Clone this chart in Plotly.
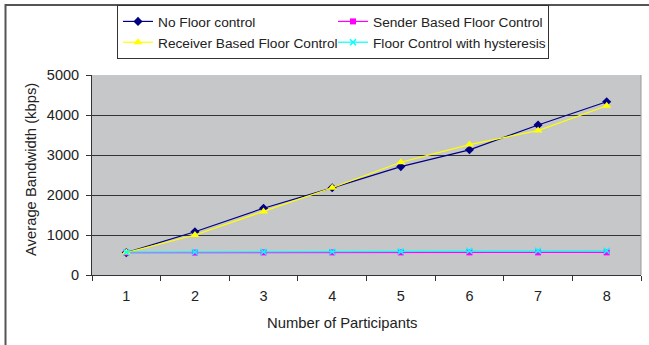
import plotly.graph_objects as go

participants = ["1", "2", "3", "4", "5", "6", "7", "8"]
no_floor = [560, 1080, 1670, 2180, 2710, 3130, 3750, 4330]
sender_based = [560, 560, 565, 565, 565, 565, 565, 565]
receiver_based = [560, 1000, 1590, 2180, 2820, 3260, 3610, 4230]
hysteresis = [570, 575, 580, 580, 590, 605, 605, 605]
x_title = "Number of Participants"
y_title = "Average Bandwidth (kbps)"

fig = go.Figure()
fig.add_trace(go.Scatter(x=participants, y=no_floor, name="No Floor control", mode="lines+markers",
                         line=dict(color="#000080", width=1.2), marker=dict(symbol="diamond", size=7, color="#000080")))
fig.add_trace(go.Scatter(x=participants, y=sender_based, name="Sender Based Floor Control", mode="lines+markers",
                         line=dict(color="#FF00FF", width=1.2), marker=dict(symbol="square", size=6, color="#FF00FF")))
fig.add_trace(go.Scatter(x=participants, y=receiver_based, name="Receiver Based Floor Control", mode="lines+markers",
                         line=dict(color="#FFFF00", width=1.2), marker=dict(symbol="triangle-up", size=8, color="#FFFF00")))
fig.add_trace(go.Scatter(x=participants, y=hysteresis, name="Floor Control with hysteresis", mode="lines+markers",
                         line=dict(color="#00FFFF", width=1.2), marker=dict(symbol="x-thin", size=6, color="#00FFFF",
                                                                             line=dict(color="#00FFFF", width=1.5))))

font = "Liberation Sans, Arial, sans-serif"
fs = 13.7
tfs = 14.8
kfs = 14.5
fig.update_layout(
    width=649, height=345,
    margin=dict(l=92, r=8, t=75, b=70, autoexpand=False),
    paper_bgcolor="white",
    plot_bgcolor="#C6C7C9",
    font=dict(family=font, size=fs, color="#222"),
    showlegend=True,
    legend=dict(orientation="h", xref="container", yref="container",
                x=117 / 649, y=1 - 5 / 345, xanchor="left", yanchor="top",
                entrywidth=170, entrywidthmode="pixels", itemwidth=30,
                bordercolor="#333", borderwidth=1, bgcolor="white",
                font=dict(family=font, size=fs, color="#222"),
                tracegroupgap=0),
    xaxis=dict(type="category", tickson="boundaries", ticks="outside", ticklen=5, tickcolor="#333",
               showline=True, linecolor="#333", linewidth=1, showgrid=False, automargin=False,
               ticklabelstandoff=8,
               tickfont=dict(size=kfs), range=[-0.5, 7.5]),
    yaxis=dict(range=[0, 5000], dtick=1000, ticks="outside", ticklen=5, tickcolor="#333",
               showline=True, linecolor="#333", linewidth=1, automargin=False,
               showgrid=True, gridcolor="#333", gridwidth=1, zeroline=False,
               ticklabelstandoff=4,
               tickfont=dict(size=kfs)),
    annotations=[
        dict(text=x_title, xref="paper", yref="paper", x=(342 - 92) / 549, y=(275 - 323) / 200,
             xanchor="center", yanchor="middle", showarrow=False, font=dict(size=tfs)),
        dict(text=y_title, xref="paper", yref="paper", x=(31 - 92) / 549, y=(275 - 170) / 200,
             xanchor="center", yanchor="middle", showarrow=False, textangle=-90, font=dict(size=tfs)),
    ],
    shapes=[
        dict(type="rect", xref="paper", yref="paper", x0=(5.5 - 92) / 549, x1=(670 - 92) / 549,
             y0=(275 - 5) / 200, y1=(275 - 370) / 200, line=dict(color="#555", width=2),
             fillcolor="rgba(0,0,0,0)", layer="above"),
        dict(type="line", xref="paper", yref="paper", x0=1, x1=1, y0=0, y1=1,
             line=dict(color="#999", width=1)),
    ],
)

fig.write_html("out.html", config={"displayModeBar": False},
               post_script="document.body.style.margin='0';document.body.style.overflow='hidden';")
